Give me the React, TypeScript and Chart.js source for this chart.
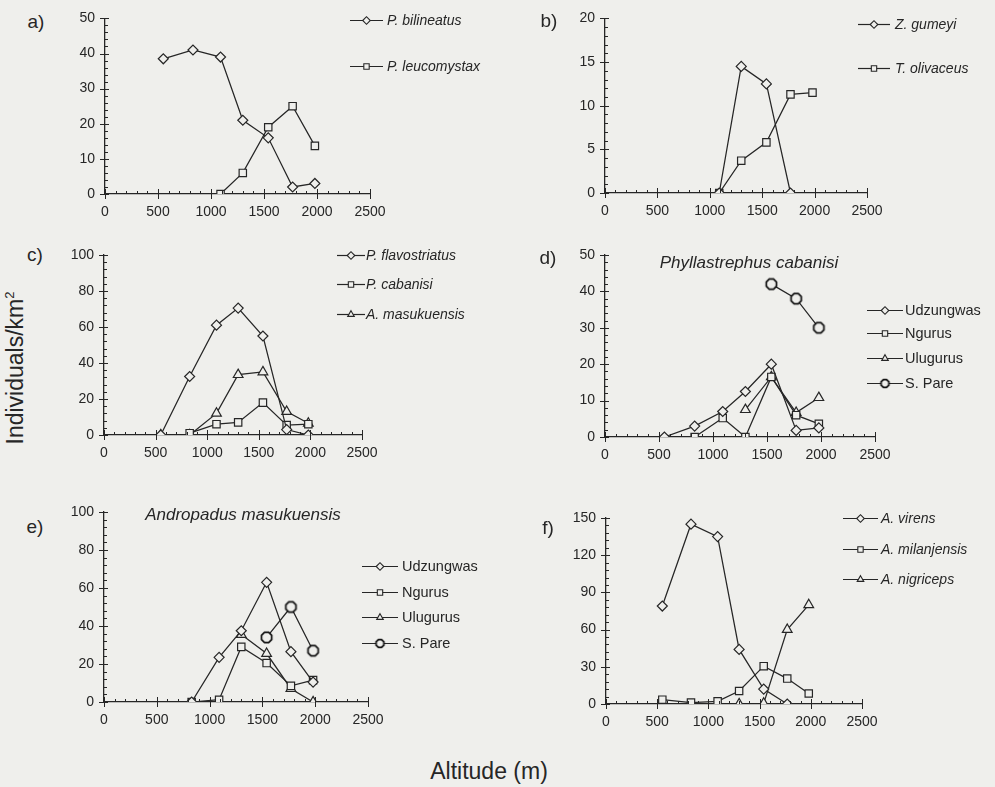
import React, { useEffect, useRef } from 'react';
import { Chart, registerables } from 'chart.js';
import { drawPoint } from 'chart.js/helpers';

Chart.register(...registerables);

const BG = '#efefec';
const INK = '#262626';
const FONT = '"Liberation Sans", Arial, Helvetica, sans-serif';

// ---------- data ----------
const altitudes = [550, 830, 1090, 1300, 1540, 1770, 1980];
const xTickLabels = [0, 500, 1000, 1500, 2000, 2500];

// a)
const bilineatus = [38.5, 41, 39, 21, 16, 2, 3];
const leucomystax = [null, null, 0, 6, 19, 25, 13.7];
// b)
const gumeyi = [null, null, 0, 14.5, 12.5, 0, null];
const olivaceus = [null, null, 0, 3.7, 5.8, 11.3, 11.5];
// c)
const flavostriatus = [0, 32.5, 61, 70.5, 55, 3, 0];
const cabanisiC = [null, 1, 6, 7, 18, 5.5, 6];
const masukuensisC = [0, 0, 12, 33.5, 35, 13, 6.5];
// d) Phyllastrephus cabanisi
const udzungwasD = [0, 3, 7, 12.5, 20, 1.8, 2.5];
const ngurusD = [null, 0, 5.2, 0, 16.5, 6, 3.6];
const ulugurusD = [null, null, null, 7.5, 16.5, 6.7, 10.8];
const sPareD = [null, null, null, null, 42, 38, 30];
// e) Andropadus masukuensis
const udzungwasE = [null, 0, 23.5, 37.5, 63, 26.5, 10.5];
const ngurusE = [null, 0, 1.2, 29, 20.5, 8.5, 11.5];
const ulugurusE = [null, null, null, 35.5, 25.5, 7, 0];
const sPareE = [null, null, null, null, 34, 50, 27];
// f)
const virens = [79, 145, 135, 44, 12, 0, null];
const milanjensis = [3.5, 1.2, 2.2, 10.5, 30.5, 20.5, 8.5];
const nigriceps = [null, null, null, 0, 0.5, 60, 80];

const YW = 40;
const XH = 30;

function makeOctagon(r: number) {
  const s = Math.ceil(r * 2 + 4);
  const c = document.createElement('canvas');
  c.width = s;
  c.height = s;
  const ctx = c.getContext('2d')!;
  ctx.beginPath();
  for (let k = 0; k < 8; k++) {
    const a = Math.PI / 8 + (k * Math.PI) / 4;
    ctx.lineTo(s / 2 + r * Math.cos(a), s / 2 + r * Math.sin(a));
  }
  ctx.closePath();
  ctx.fillStyle = BG;
  ctx.fill();
  ctx.strokeStyle = '#111';
  ctx.lineWidth = 1.7;
  ctx.stroke();
  return c;
}

type Series = { label: string; values: (number | null)[]; style: string };
type Panel = {
  key: string;
  left: number;
  top: number;
  width: number;
  height: number;
  area: { l: number; r: number; t: number; b: number };
  yMax: number;
  yStep: number;
  yMinor: number;
  series: Series[];
  legend: { x: number; ys: number[]; len: number; gap: number; size: number; italic: boolean };
};

const panels: Panel[] = [
  {
    key: 'a', left: 50, top: 0, width: 440, height: 225,
    area: { l: 55, r: 320, t: 15, b: 194 },
    yMax: 50, yStep: 10, yMinor: 2,
    series: [
      { label: 'P. bilineatus', values: bilineatus, style: 'rectRot' },
      { label: 'P. leucomystax', values: leucomystax, style: 'rect' },
    ],
    legend: { x: 300, ys: [20, 66], len: 33, gap: 4, size: 14, italic: true },
  },
  {
    key: 'b', left: 550, top: 0, width: 440, height: 225,
    area: { l: 55, r: 317, t: 16, b: 193 },
    yMax: 20, yStep: 5, yMinor: 1,
    series: [
      { label: 'Z. gumeyi', values: gumeyi, style: 'rectRot' },
      { label: 'T. olivaceus', values: olivaceus, style: 'rect' },
    ],
    legend: { x: 308, ys: [24, 68], len: 32, gap: 5, size: 14, italic: true },
  },
  {
    key: 'c', left: 50, top: 235, width: 440, height: 235,
    area: { l: 54, r: 312, t: 20, b: 200 },
    yMax: 100, yStep: 20, yMinor: 4,
    series: [
      { label: 'P. flavostriatus', values: flavostriatus, style: 'rectRot' },
      { label: 'P. cabanisi', values: cabanisiC, style: 'rect' },
      { label: 'A. masukuensis', values: masukuensisC, style: 'triangle' },
    ],
    legend: { x: 287, ys: [20, 49, 79], len: 28, gap: 1, size: 14, italic: true },
  },
  {
    key: 'd', left: 550, top: 235, width: 440, height: 235,
    area: { l: 55, r: 325, t: 20, b: 202 },
    yMax: 50, yStep: 10, yMinor: 2,
    series: [
      { label: 'Udzungwas', values: udzungwasD, style: 'rectRot' },
      { label: 'Ngurus', values: ngurusD, style: 'rect' },
      { label: 'Ulugurus', values: ulugurusD, style: 'triangle' },
      { label: 'S. Pare', values: sPareD, style: 'octagon' },
    ],
    legend: { x: 317, ys: [75, 98, 123, 148], len: 36, gap: 2, size: 14.5, italic: false },
  },
  {
    key: 'e', left: 50, top: 490, width: 440, height: 250,
    area: { l: 54, r: 318, t: 22, b: 212 },
    yMax: 100, yStep: 20, yMinor: 4,
    series: [
      { label: 'Udzungwas', values: udzungwasE, style: 'rectRot' },
      { label: 'Ngurus', values: ngurusE, style: 'rect' },
      { label: 'Ulugurus', values: ulugurusE, style: 'triangle' },
      { label: 'S. Pare', values: sPareE, style: 'octagon' },
    ],
    legend: { x: 312, ys: [76, 102, 127, 153], len: 36, gap: 4, size: 14.5, italic: false },
  },
  {
    key: 'f', left: 550, top: 490, width: 440, height: 250,
    area: { l: 56, r: 312, t: 28, b: 214 },
    yMax: 150, yStep: 30, yMinor: 6,
    series: [
      { label: 'A. virens', values: virens, style: 'rectRot' },
      { label: 'A. milanjensis', values: milanjensis, style: 'rect' },
      { label: 'A. nigriceps', values: nigriceps, style: 'triangle' },
    ],
    legend: { x: 293, ys: [28, 59, 89], len: 35, gap: 3, size: 14, italic: true },
  },
];

const panelLabels = [
  { t: 'a)', x: 36, y: 21 },
  { t: 'b)', x: 549, y: 20 },
  { t: 'c)', x: 35, y: 254 },
  { t: 'd)', x: 548, y: 257 },
  { t: 'e)', x: 35, y: 526 },
  { t: 'f)', x: 548, y: 527 },
];

const titles = [
  { t: 'Phyllastrephus cabanisi', x: 749, y: 262 },
  { t: 'Andropadus masukuensis', x: 243, y: 514 },
];

function makeAxesPlugin(yMax: number, yStep: number, yMinor: number) {
  return {
    id: 'sketchAxes',
    afterDraw(chart: any) {
      const { ctx, chartArea } = chart;
      const xs = chart.scales.x;
      const ys = chart.scales.y;
      ctx.save();
      ctx.strokeStyle = INK;
      ctx.lineWidth = 1;
      ctx.beginPath();
      for (let v = 0; v <= 2500; v += 100) {
        const px = Math.round(xs.getPixelForValue(v)) + 0.5;
        const major = v % 500 === 0;
        ctx.moveTo(px, chartArea.bottom - (major ? 5 : 3));
        ctx.lineTo(px, chartArea.bottom + (major ? 5 : 0));
      }
      const n = Math.round(yMax / yMinor);
      const per = Math.round(yStep / yMinor);
      for (let k = 0; k <= n; k++) {
        const py = Math.round(ys.getPixelForValue(k * yMinor)) + 0.5;
        const major = k % per === 0;
        ctx.moveTo(chartArea.left - (major ? 5 : 0), py);
        ctx.lineTo(chartArea.left + (major ? 4 : 3), py);
      }
      ctx.stroke();
      ctx.restore();
    },
  };
}

const legendPlugin = {
  id: 'sketchLegend',
  afterDraw(chart: any, _args: any, opts: any) {
    const { ctx } = chart;
    ctx.save();
    chart.data.datasets.forEach((ds: any, i: number) => {
      const y = opts.ys[i];
      const x = opts.x;
      ctx.strokeStyle = INK;
      ctx.lineWidth = 1.2;
      ctx.beginPath();
      ctx.moveTo(x, y + 0.5);
      ctx.lineTo(x + opts.len, y + 0.5);
      ctx.stroke();
      ctx.fillStyle = BG;
      ctx.strokeStyle = INK;
      ctx.lineWidth = 1.1;
      drawPoint(ctx, { pointStyle: ds.legendStyle, rotation: 0, radius: 3.8, borderWidth: 1.1 } as any, x + opts.len / 2, y + 0.5);
      ctx.fillStyle = INK;
      ctx.font = `${opts.italic ? 'italic ' : ''}${opts.size}px ${FONT}`;
      ctx.textBaseline = 'middle';
      ctx.textAlign = 'left';
      ctx.fillText(ds.label, x + opts.len + opts.gap, y + 1);
    });
    ctx.restore();
  },
};

function PanelChart({ p }: { p: Panel }) {
  const ref = useRef<HTMLCanvasElement>(null);
  useEffect(() => {
    const oct = makeOctagon(5.5);
    const octSmall = makeOctagon(4.2);
    const styleOf = (s: string) => (s === 'octagon' ? oct : s);
    const radiusOf = (s: string) => (s === 'rect' ? 5.2 : s === 'triangle' ? 5.6 : 5);
    const chart = new Chart(ref.current!, {
      type: 'line',
      data: {
        datasets: p.series.map((s) => ({
          label: s.label,
          data: altitudes.map((a, i) => ({ x: a, y: s.values[i] })),
          borderColor: INK,
          borderWidth: 1.25,
          pointStyle: styleOf(s.style) as any,
          legendStyle: s.style === 'octagon' ? octSmall : s.style,
          pointRadius: radiusOf(s.style),
          pointBackgroundColor: BG,
          pointBorderColor: INK,
          pointBorderWidth: 1.2,
          tension: 0,
          spanGaps: false,
          fill: false,
        })) as any,
      },
      options: {
        responsive: false,
        animation: false,
        devicePixelRatio: 1,
        layout: {
          padding: {
            left: p.area.l - YW,
            right: p.width - p.area.r,
            top: p.area.t,
            bottom: p.height - p.area.b - XH,
          },
        },
        plugins: {
          legend: { display: false },
          tooltip: { enabled: false },
          sketchLegend: p.legend,
        } as any,
        scales: {
          x: {
            type: 'linear',
            min: 0,
            max: 2500,
            afterBuildTicks: (s: any) => {
              s.ticks = xTickLabels.map((v) => ({ value: v }));
            },
            ticks: {
              autoSkip: false,
              maxRotation: 0,
              color: INK,
              padding: 10,
              font: { family: FONT, size: 14 },
              callback: (v: any) => String(v),
            },
            grid: { display: false, drawTicks: false },
            border: { display: true, color: INK, width: 1.3 },
            afterFit: (s: any) => {
              s.height = XH;
            },
          },
          y: {
            type: 'linear',
            min: 0,
            max: p.yMax,
            ticks: {
              stepSize: p.yStep,
              autoSkip: false,
              color: INK,
              padding: 10,
              font: { family: FONT, size: 14 },
              callback: (v: any) => String(v),
            },
            grid: { display: false, drawTicks: false },
            border: { display: true, color: INK, width: 1.3 },
            afterFit: (s: any) => {
              s.width = YW;
            },
          },
        },
      },
      plugins: [makeAxesPlugin(p.yMax, p.yStep, p.yMinor), legendPlugin],
    });
    return () => chart.destroy();
  }, [p]);
  return (
    <canvas
      ref={ref}
      width={p.width}
      height={p.height}
      style={{ position: 'absolute', left: p.left, top: p.top, width: p.width, height: p.height }}
    />
  );
}

export default function App() {
  const center: React.CSSProperties = {
    position: 'absolute',
    transform: 'translate(-50%, -50%)',
    whiteSpace: 'nowrap',
    lineHeight: 1,
    fontFamily: FONT,
    color: INK,
  };
  return (
    <div style={{ position: 'absolute', left: 0, top: 0, width: 995, height: 787, background: BG, overflow: 'hidden' }}>
      {panels.map((p) => (
        <PanelChart key={p.key} p={p} />
      ))}
      {panelLabels.map((l) => (
        <div key={l.t} style={{ ...center, left: l.x, top: l.y, fontSize: 19 }}>
          {l.t}
        </div>
      ))}
      {titles.map((t) => (
        <div key={t.t} style={{ ...center, left: t.x, top: t.y, fontSize: 17, fontStyle: 'italic' }}>
          {t.t}
        </div>
      ))}
      <div style={{ ...center, left: 15, top: 368, fontSize: 23, transform: 'translate(-50%, -50%) rotate(-90deg)' }}>
        Individuals/km<sup style={{ fontSize: 13, verticalAlign: 'super', lineHeight: 0 }}>2</sup>
      </div>
      <div style={{ ...center, left: 489, top: 771, fontSize: 23 }}>Altitude (m)</div>
    </div>
  );
}
